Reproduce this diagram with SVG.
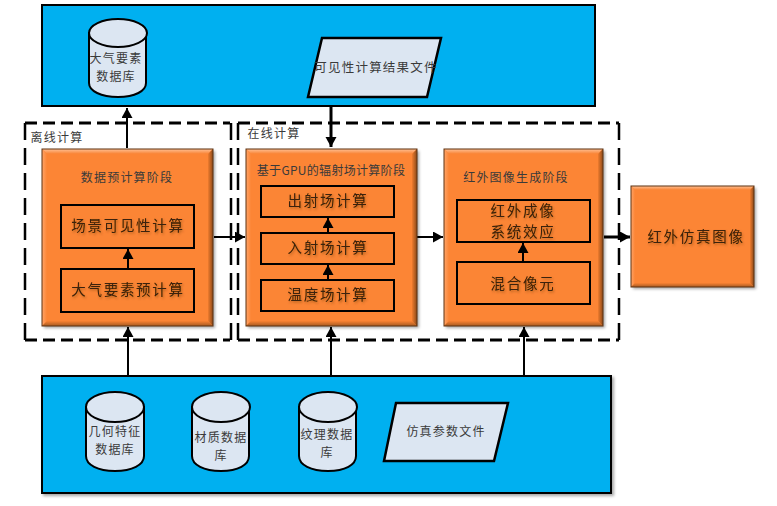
<svg xmlns="http://www.w3.org/2000/svg" width="777" height="506" viewBox="0 0 777 506">
<style>
text{font-family:"Noto Sans CJK SC","Liberation Serif",sans-serif;fill:#3a3a3a;text-anchor:middle}
.t12{font-size:12px;letter-spacing:1.2px}
.t15{font-size:14.5px;letter-spacing:1.7px;fill:#3a2008;filter:url(#ts)}
.blue{fill:#00b0f0;stroke:#000;stroke-width:2}
.org{fill:#fc8535}
.edge{fill:none;stroke:#5e3210;stroke-width:1}
.inner{fill:#fb8535;stroke:#000;stroke-width:2}
.db{fill:#dce6f2;stroke:#000;stroke-width:2}
.pg{fill:#dce6f2;stroke:#000;stroke-width:2.5}
.dh{fill:none;stroke:#000;stroke-width:3;stroke-dasharray:12 6}
.dv{fill:none;stroke:#000;stroke-width:2.5;stroke-dasharray:17 8}
.c{stroke:#000;stroke-width:2;fill:none}
.c3{stroke:#000;stroke-width:3;fill:none}
</style>
<defs>
<marker id="a" markerUnits="userSpaceOnUse" markerWidth="12" markerHeight="12" refX="10" refY="5.5" orient="auto"><path d="M0,0L10,5.5L0,11z" fill="#000"/></marker>
<linearGradient id="top" x1="0" y1="0" x2="0" y2="1"><stop offset="0" stop-color="#ffc196"/><stop offset="1" stop-color="#f98232"/></linearGradient>
<linearGradient id="bot" x1="0" y1="0" x2="0" y2="1"><stop offset="0" stop-color="#f98232"/><stop offset="1" stop-color="#a65a22"/></linearGradient>
<linearGradient id="rgt" x1="0" y1="0" x2="1" y2="0"><stop offset="0" stop-color="#f07c2e"/><stop offset="1" stop-color="#8a4a1a"/></linearGradient>
<linearGradient id="lft" x1="0" y1="0" x2="1" y2="0"><stop offset="0" stop-color="#ffa469"/><stop offset="1" stop-color="#fc8535"/></linearGradient>
<filter id="s" x="-5%" y="-5%" width="112%" height="112%"><feDropShadow dx="2" dy="2" stdDeviation="1.5" flood-color="#000" flood-opacity=".35"/></filter>
<filter id="ts" x="-5%" y="-20%" width="110%" height="150%"><feDropShadow dx="1" dy="1.5" stdDeviation="1" flood-color="#5e3210" flood-opacity=".45"/></filter>
</defs>

<g id="top-panel"><rect class="blue" x="42" y="5" width="553" height="101"/></g>
<g id="bottom-panel"><rect class="blue" x="42" y="376" width="569" height="117" filter="url(#s)"/></g>

<g id="offline-frame">
<path class="dh" d="M25,123H230"/><path class="dh" d="M25,340H230"/>
<path class="dv" d="M25,123V340"/><path class="dv" d="M231,123V340"/>
<text class="t12" x="57" y="142">离线计算</text></g>
<g id="online-frame">
<path class="dh" d="M238,123H619"/><path class="dh" d="M238,340H619"/>
<path class="dv" d="M238,123V340"/><path class="dv" d="M619,123V340"/>
<text class="t12" x="274" y="138">在线计算</text></g>

<g id="connectors">
<path class="c" d="M127,148V108" marker-end="url(#a)"/>
<path class="c3" d="M331,106V147" marker-end="url(#a)"/>
<path class="c" d="M128,375V327" marker-end="url(#a)"/>
<path class="c" d="M331,375V327" marker-end="url(#a)"/>
<path class="c" d="M524,375V327" marker-end="url(#a)"/>
<path class="c" d="M214,237H245" marker-end="url(#a)"/>
<path class="c" d="M417,237H443" marker-end="url(#a)"/>
<path class="c3" d="M604,237H630" marker-end="url(#a)"/>
</g>

<g id="stage-precompute">
<rect class="org" x="42" y="149" width="171" height="177" filter="url(#s)"/>
<path d="M42,149H213L208,154H47z" fill="url(#top)"/><path d="M42,149V326L47,321V154z" fill="url(#lft)"/><path d="M42,326H213L208,321H47z" fill="url(#bot)"/><path d="M213,149V326L208,321V154z" fill="url(#rgt)"/>
<rect class="edge" x="42" y="149" width="171" height="177"/>
<text class="t12" x="127" y="182">数据预计算阶段</text>
<rect class="inner" x="61" y="205" width="133" height="43"/><text class="t15" x="128" y="231">场景可见性计算</text>
<rect class="inner" x="61" y="269" width="133" height="43"/><text class="t15" x="128" y="295">大气要素预计算</text>
<path class="c" d="M128,269V249" marker-end="url(#a)"/>
</g>

<g id="stage-radiation">
<rect class="org" x="246" y="149" width="171" height="177" filter="url(#s)"/>
<path d="M246,149H417L412,154H251z" fill="url(#top)"/><path d="M246,149V326L251,321V154z" fill="url(#lft)"/><path d="M246,326H417L412,321H251z" fill="url(#bot)"/><path d="M417,149V326L412,321V154z" fill="url(#rgt)"/>
<rect class="edge" x="246" y="149" width="171" height="177"/>
<text class="t12" x="331" y="175" style="letter-spacing:.3px">基于GPU的辐射场计算阶段</text>
<rect class="inner" x="261" y="186" width="133" height="31"/><text class="t15" x="328" y="206">出射场计算</text>
<rect class="inner" x="261" y="233" width="133" height="31"/><text class="t15" x="328" y="253">入射场计算</text>
<rect class="inner" x="261" y="280" width="133" height="31"/><text class="t15" x="328" y="300">温度场计算</text>
<path class="c" d="M328,233V218" marker-end="url(#a)"/>
<path class="c" d="M328,280V265" marker-end="url(#a)"/>
</g>

<g id="stage-image">
<rect class="org" x="444" y="149" width="159" height="177" filter="url(#s)"/>
<path d="M444,149H603L598,154H449z" fill="url(#top)"/><path d="M444,149V326L449,321V154z" fill="url(#lft)"/><path d="M444,326H603L598,321H449z" fill="url(#bot)"/><path d="M603,149V326L598,321V154z" fill="url(#rgt)"/>
<rect class="edge" x="444" y="149" width="159" height="177"/>
<text class="t12" x="516" y="182">红外图像生成阶段</text>
<rect class="inner" x="457" y="200" width="133" height="42"/><text class="t15" x="523" y="216">红外成像</text><text class="t15" x="523" y="237">系统效应</text>
<rect class="inner" x="457" y="262" width="133" height="42"/><text class="t15" x="523" y="289">混合像元</text>
<path class="c" d="M523,262V243" marker-end="url(#a)"/>
</g>

<g id="result-node">
<rect class="org" x="631" y="186" width="123" height="101" filter="url(#s)"/>
<path d="M631,186H754L750,190H635z" fill="url(#top)"/><path d="M631,186V287L635,283V190z" fill="url(#lft)"/><path d="M631,287H754L750,283H635z" fill="url(#bot)"/><path d="M754,186V287L750,283V190z" fill="url(#rgt)"/>
<rect class="edge" x="631" y="186" width="123" height="101"/>
<text class="t15" x="696" y="242">红外仿真图像</text>
</g>

<g id="db-atmos">
<path class="db" d="M89,33V83C89,91 101,97 118,97C135,97 146,91 146,83V33z"/><ellipse class="db" cx="118" cy="33" rx="29" ry="14"/>
<text class="t12" x="116" y="63">大气要素</text><text class="t12" x="116" y="81">数据库</text>
</g>
<g id="file-visibility">
<polygon class="pg" points="322,38 441,38 427,97 308,97"/>
<text class="t12" x="376" y="72" style="font-size:12.5px">可见性计算结果文件</text>
</g>
<g id="db-geometry">
<path class="db" d="M86,407V456C86,465 98,471 115,471C132,471 144,465 144,456V407z"/><ellipse class="db" cx="115" cy="407" rx="29" ry="15"/>
<text class="t12" x="115" y="436">几何特征</text><text class="t12" x="115" y="454">数据库</text>
</g>
<g id="db-material">
<path class="db" d="M192,407V456C192,465 204,471 221,471C238,471 249,465 249,456V407z"/><ellipse class="db" cx="221" cy="407" rx="29" ry="15"/>
<text class="t12" x="221" y="442">材质数据</text><text class="t12" x="221" y="460">库</text>
</g>
<g id="db-texture">
<path class="db" d="M299,407V456C299,465 311,471 328,471C345,471 356,465 356,456V407z"/><ellipse class="db" cx="328" cy="407" rx="29" ry="15"/>
<text class="t12" x="327" y="439">纹理数据</text><text class="t12" x="327" y="457">库</text>
</g>
<g id="file-params">
<polygon class="pg" points="396,403 508,403 494,461 384,461"/>
<text class="t12" x="446" y="436">仿真参数文件</text>
</g>
</svg>
